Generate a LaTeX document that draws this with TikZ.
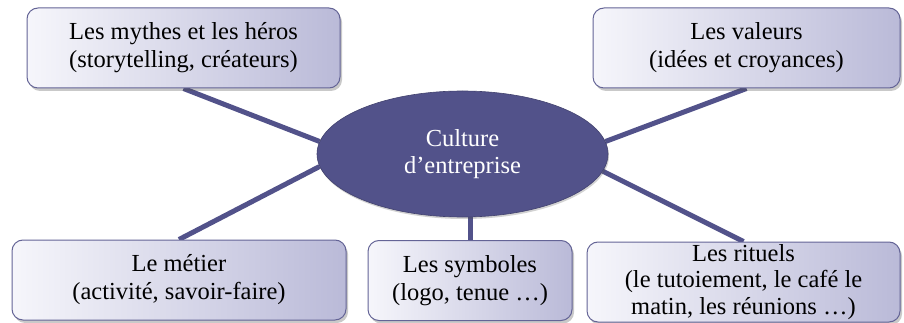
\documentclass[tikz,border=0pt]{standalone}
\usepackage{fontspec}
\setmainfont{Liberation Serif}
\usetikzlibrary{shapes.geometric,shadows,backgrounds}

\definecolor{slate}{RGB}{82,82,138}
\definecolor{boxleft}{RGB}{246,246,251}
\definecolor{boxright}{RGB}{186,186,216}
\definecolor{boxline}{RGB}{100,100,150}

\begin{document}
\begin{tikzpicture}[x=1pt,y=-1pt,
    bubble/.style={draw=boxline, line width=1pt, rounded corners=11pt,
        left color=boxleft, right color=boxright, align=center,
        inner sep=0pt, minimum height=80pt,
        font=\fontsize{24.5}{28}\selectfont,
        drop shadow={shadow xshift=2pt, shadow yshift=-3pt, opacity=0.3, fill=black!70}},
    hub/.style={ellipse, fill=slate, draw=slate!80!black, line width=0.6pt,
        inner sep=0pt, minimum width=291pt, minimum height=126pt,
        align=center, text=white, font=\fontsize{24.5}{27}\selectfont,
        drop shadow={shadow xshift=1pt, shadow yshift=-2pt, opacity=0.25, fill=black!70}},
    link/.style={draw=slate, line width=5pt}]
    \useasboundingbox (0,0) rectangle (904,323);

    % centre
    \node[hub] (culture) at (462.5,154) {Culture\\d’entreprise};

    % top row
    \node[bubble, minimum width=313pt] (mythes) at (183.5,48)
        {Les mythes et les héros\\(storytelling, créateurs)};
    \node[bubble, minimum width=307pt] (valeurs) at (746.5,48)
        {Les valeurs\\(idées et croyances)};

    % bottom row
    \node[bubble, minimum width=334pt] (metier) at (179,280)
        {Le métier\\(activité, savoir-faire)};
    \node[bubble, minimum width=204pt] (symboles) at (470,280.5)
        {Les symboles\\(logo, tenue …)};
    \node[bubble, minimum width=313pt, font=\fontsize{24.5}{26.5}\selectfont] (rituels) at (743.5,282)
        {Les rituels\\(le tutoiement, le café le\\matin, les réunions …)};

    \begin{scope}[on background layer]
        \draw[link] (mythes.south) -- (culture.175.6);
        \draw[link] (valeurs.south) -- (culture.5.9);
        \draw[link] (metier.north) -- (culture.185.2);
        \draw[link] (rituels.north) -- (culture.353.5);
        \draw[link] (symboles.north) -- (symboles.north |- culture.south);
    \end{scope}
\end{tikzpicture}
\end{document}
